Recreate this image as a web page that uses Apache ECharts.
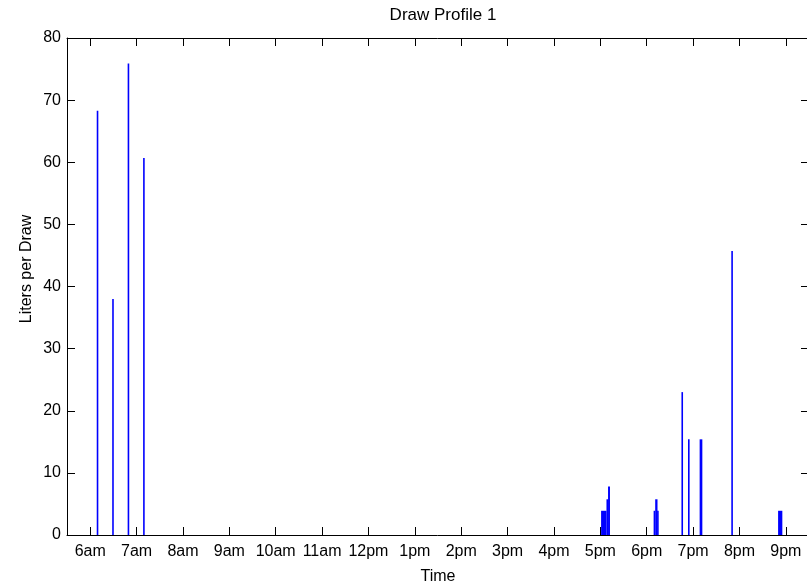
<!DOCTYPE html>
<html>
<head>
<meta charset="utf-8">
<script src="https://cdn.jsdelivr.net/npm/echarts@6/dist/echarts.min.js"></script>
<style>
  html, body { margin: 0; padding: 0; background: #fff; }
  #chart { width: 807px; height: 586px; }
</style>
</head>
<body>
<div id="chart"></div>
<script>
  // draw events: start / end clock time and liters per draw
  const drawStart = ["6:09", "6:29", "6:49", "7:09",
    "17:01", "17:08", "17:10",
    "18:09", "18:11", "18:14",
    "18:45.5", "18:54", "19:08.5", "19:50", "20:50"];
  const drawEnd = ["6:10", "6:30", "6:50", "7:10",
    "17:08", "17:10", "17:12.5",
    "18:11", "18:14", "18:15",
    "18:46.5", "18:55", "19:12", "19:51", "20:55.5"];
  const drawLiters = [68.3, 38.0, 75.9, 60.7,
    3.9, 5.75, 7.8,
    3.9, 5.75, 3.9,
    23.0, 15.4, 15.4, 45.7, 3.9];

  // hour ticks 6am .. 9pm
  const hourTicks = [6, 7, 8, 9, 10, 11, 12, 13, 14, 15, 16, 17, 18, 19, 20, 21];
  const hourLabels = ["6am", "7am", "8am", "9am", "10am", "11am", "12pm", "1pm",
    "2pm", "3pm", "4pm", "5pm", "6pm", "7pm", "8pm", "9pm"];

  const font = "'Liberation Sans', Arial, Helvetica, sans-serif";

  function toHours(s) {
    const p = s.split(":");
    return Number(p[0]) + Number(p[1]) / 60;
  }

  const data = drawStart.map((s, i) => [toHours(s), toHours(drawEnd[i]), drawLiters[i]]);

  const chart = echarts.init(document.getElementById("chart"));

  const axisLine = { show: true, onZero: false, lineStyle: { color: "#000", width: 1 } };
  const tick = { show: true, inside: true, length: 8, lineStyle: { color: "#000", width: 1 } };

  chart.setOption({
    animation: false,
    backgroundColor: "#fff",
    textStyle: { fontFamily: font },
    title: {
      text: "Draw Profile 1",
      left: 438,
      textAlign: "center",
      top: 2,
      textStyle: { fontFamily: font, fontSize: 17, fontWeight: "normal", color: "#000" }
    },
    grid: { left: 67, top: 38, right: -2, bottom: 51, outerBoundsMode: "none", containLabel: false },
    xAxis: [
      {
        type: "value",
        min: 5.5,
        max: 21.5,
        position: "bottom",
        name: "Time",
        nameLocation: "middle",
        nameGap: 34,
        nameTextStyle: { fontFamily: font, fontSize: 16, color: "#000" },
        axisLine: axisLine,
        axisTick: Object.assign({ customValues: hourTicks }, tick),
        axisLabel: {
          customValues: hourTicks,
          margin: 9,
          fontFamily: font,
          fontSize: 16,
          color: "#000",
          formatter: v => hourLabels[hourTicks.indexOf(Math.round(v))]
        },
        splitLine: { show: false }
      },
      {
        type: "value",
        min: 5.5,
        max: 21.5,
        position: "top",
        axisLine: axisLine,
        axisTick: Object.assign({ customValues: hourTicks }, tick),
        axisLabel: { show: false },
        splitLine: { show: false }
      }
    ],
    yAxis: [
      {
        type: "value",
        min: 0,
        max: 80,
        interval: 10,
        position: "left",
        axisLine: axisLine,
        axisTick: tick,
        axisLabel: { margin: 6, fontFamily: font, fontSize: 16, color: "#000" },
        splitLine: { show: false }
      },
      {
        type: "value",
        min: 0,
        max: 80,
        interval: 10,
        position: "right",
        axisLine: axisLine,
        axisTick: tick,
        axisLabel: { show: false },
        splitLine: { show: false }
      }
    ],
    graphic: [
      {
        type: "text",
        x: 27,
        y: 269,
        rotation: Math.PI / 2,
        style: {
          text: "Liters per Draw",
          font: "16px " + font,
          fill: "#000",
          align: "center",
          verticalAlign: "middle"
        }
      }
    ],
    series: [
      {
        type: "custom",
        xAxisIndex: 0,
        yAxisIndex: 0,
        clip: true,
        data: data,
        renderItem: function (params, api) {
          const p0 = api.coord([api.value(0), api.value(2)]);
          const p1 = api.coord([api.value(1), 0]);
          let x = p0[0];
          let w = p1[0] - p0[0];
          if (w < 1.6) {
            x = (p0[0] + p1[0]) / 2 - 0.8;
            w = 1.6;
          }
          return {
            type: "rect",
            shape: { x: x, y: p0[1], width: w, height: p1[1] - p0[1] },
            style: { fill: "#0000ff" }
          };
        }
      }
    ]
  });
</script>
</body>
</html>
